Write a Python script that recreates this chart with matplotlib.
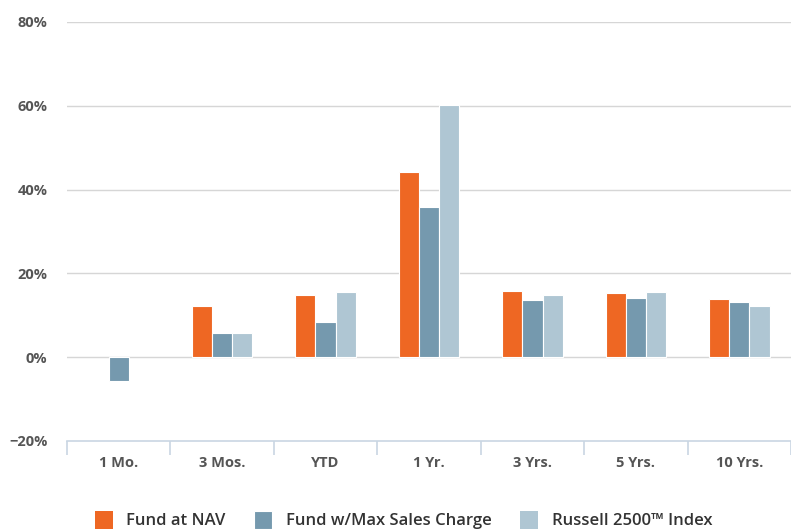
import numpy as np
import matplotlib.pyplot as plt
from matplotlib.ticker import FuncFormatter

# ---------- data ----------
periods = ["1 Mo.", "3 Mos.", "YTD", "1 Yr.", "3 Yrs.", "5 Yrs.", "10 Yrs."]
fund_nav = [0.0, 12.2, 14.8, 44.2, 15.8, 15.3, 13.9]
fund_max = [-5.7, 5.7, 8.4, 35.8, 13.6, 14.1, 13.1]
russell = [0.0, 5.7, 15.5, 60.2, 14.8, 15.5, 12.2]
series_names = ["Fund at NAV", "Fund w/Max Sales Charge", "Russell 2500\u2122 Index"]

C_NAV, C_MAX, C_IDX = "#EE6723", "#7599AE", "#AFC6D3"

plt.rcParams.update({"font.family": ["Open Sans", "DejaVu Sans"]})
fig = plt.figure(figsize=(7.91, 5.29), dpi=100)
ax = fig.add_axes([67 / 791, 1 - 441 / 529, 1 - 67 / 791, (441 - 22) / 529])

x = np.arange(len(periods))
w = 0.195
for off, vals, c, lab in zip([-w, 0, w], [fund_nav, fund_max, russell],
                             [C_NAV, C_MAX, C_IDX], series_names):
    lws = [0 if v == 0 else 0.8 for v in vals]  # zero bars: no white edge over the gridline
    ax.bar(x + off, vals, w, color=c, edgecolor="white", linewidth=lws, label=lab, zorder=3)

ax.set_xlim(-0.5, len(periods) - 0.5)
ax.set_ylim(-20, 80)
ax.set_yticks([-20, 0, 20, 40, 60, 80])
ax.yaxis.set_major_formatter(FuncFormatter(lambda v, _: f"\u2212{abs(v):.0f}%" if v < 0 else f"{v:.0f}%"))
for yv in [0, 20, 40, 60, 80]:
    ax.axhline(yv, color="#d6d6d6", lw=1.0, zorder=1)

for s in ["top", "right", "left"]:
    ax.spines[s].set_visible(False)
ax.spines["bottom"].set_color("#c9d6e3")
ax.spines["bottom"].set_linewidth(1.2)

# category boundaries as ticks below the axis
ax.set_xticks(np.arange(-0.5, len(periods)), minor=False)
ax.set_xticklabels([])
ax.set_xticks(x, minor=True)
ax.set_xticklabels(periods, minor=True)
ax.tick_params(axis="x", which="major", length=10, width=1.2, color="#c9d6e3", direction="out")
ax.tick_params(axis="x", which="minor", length=0, pad=11, labelsize=10.5, labelcolor="#555555")
for t in ax.get_xticklabels(minor=True):
    t.set_fontweight("bold")
ax.tick_params(axis="y", length=0, pad=14, labelsize=10.5, labelcolor="#555555")
for t in ax.get_yticklabels():
    t.set_fontweight("bold")

leg = fig.legend(loc="center", bbox_to_anchor=(0.51, 1 - 520 / 529), ncol=3, frameon=False,
                 fontsize=12, handlelength=1.1, handleheight=1.3, handletextpad=0.8,
                 columnspacing=1.7)
for t in leg.get_texts():
    t.set_color("#333333")
    t.set_fontweight("semibold")

fig.savefig("out.png", dpi=100)
